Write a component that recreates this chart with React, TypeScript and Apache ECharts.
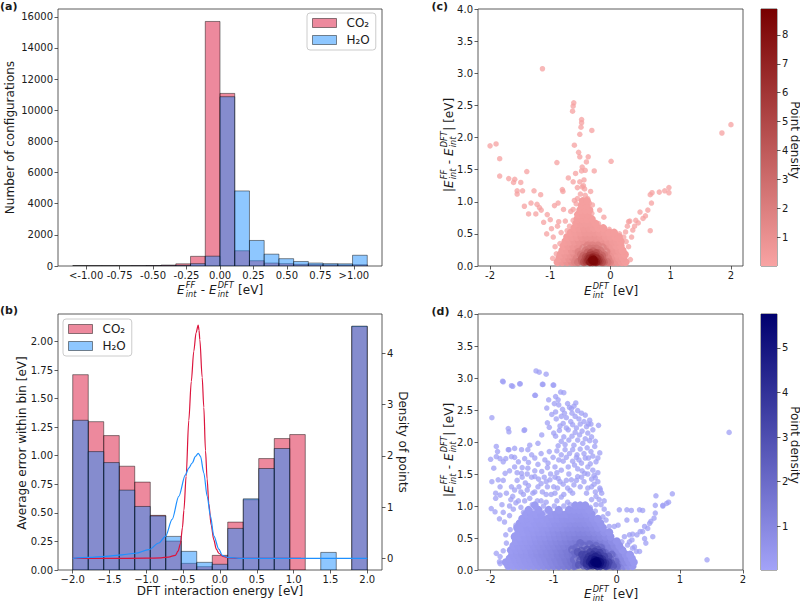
import React, { useEffect, useRef } from 'react';
import * as echarts from 'echarts';

const FONT = "'DejaVu Sans', 'Liberation Sans', sans-serif";
const TXT = '#1a1a1a';
const AX = '#333333';
const CO2_FILL = 'rgba(220,20,60,0.5)';
const H2O_FILL = 'rgba(30,144,255,0.5)';
const EDGE = 'rgba(0,0,0,0.45)';
const CO2_LINE = '#DC143C';
const H2O_LINE = '#1E90FF';
const C_LOW = '#F8A3A3';
const C_HIGH = '#780000';
const D_LOW = '#A3A3F8';
const D_HIGH = '#00006E';
const NAME_CO2 = 'CO₂';
const NAME_H2O = 'H₂O';

// ---------------- (a) error histogram ----------------
const aBinEdges = [-1.1, -0.99, -0.88, -0.77, -0.66, -0.55, -0.44, -0.33, -0.22, -0.11, 0, 0.11, 0.22, 0.33, 0.44, 0.55, 0.66, 0.77, 0.88, 0.99, 1.1];
const aCO2 = [6, 5, 5, 6, 10, 25, 60, 140, 620, 15700, 11080, 980, 340, 190, 150, 110, 90, 75, 60, 80];
const aH2O = [3, 3, 3, 4, 6, 10, 20, 40, 150, 630, 10870, 4820, 1640, 760, 470, 290, 190, 150, 140, 690];
const aTicks = [-1, -0.75, -0.5, -0.25, 0, 0.25, 0.5, 0.75, 1];
const aTickLabels = ['<-1.00', '-0.75', '-0.50', '-0.25', '0.00', '0.25', '0.50', '0.75', '>1.00'];
const aYTicks = [0, 2000, 4000, 6000, 8000, 10000, 12000, 14000, 16000];

// ---------------- (b) average error per DFT-energy bin ----------------
const bBinEdges = [-2, -1.789, -1.579, -1.368, -1.158, -0.947, -0.737, -0.526, -0.316, -0.105, 0.105, 0.316, 0.526, 0.737, 0.947, 1.158, 1.368, 1.579, 1.789, 2];
const bCO2 = [1.709, 1.298, 1.176, 0.908, 0.769, 0.478, 0.253, 0.058, 0.029, 0.128, 0.419, 0.615, 0.975, 1.15, 1.185, 0, 0, 0, 2.13];
const bH2O = [1.31, 1.036, 0.94, 0.699, 0.556, 0.473, 0.294, 0.163, 0.067, 0.05, 0.364, 0.623, 0.888, 1.063, 0, 0, 0.154, 0, 2.134];
const bKdeCO2 = [[-2, 0], [-1.5, 0], [-1.0, 0.003], [-0.8, 0.01], [-0.7, 0.025], [-0.605, 0.06], [-0.57, 0.14], [-0.537, 0.29], [-0.51, 0.6], [-0.49, 0.94], [-0.46, 1.6], [-0.424, 2.69], [-0.39, 3.45], [-0.356, 4.04], [-0.325, 4.4], [-0.296, 4.55], [-0.285, 4.45], [-0.274, 4.27], [-0.242, 3.53], [-0.22, 2.95], [-0.197, 2.1], [-0.175, 1.55], [-0.152, 1.07], [-0.12, 0.65], [-0.084, 0.36], [-0.05, 0.18], [-0.016, 0.1], [0.04, 0.04], [0.12, 0.01], [0.25, 0], [1.1, 0]];
const bKdeH2O = [[-2, 0], [-1.78, 0.02], [-1.556, 0.04], [-1.33, 0.07], [-1.148, 0.1], [-0.967, 0.17], [-0.83, 0.3], [-0.74, 0.43], [-0.65, 0.76], [-0.56, 1.21], [-0.47, 1.63], [-0.424, 1.76], [-0.378, 1.86], [-0.333, 1.99], [-0.296, 2.05], [-0.265, 1.99], [-0.22, 1.67], [-0.174, 1.21], [-0.13, 0.83], [-0.084, 0.44], [-0.016, 0.18], [0.03, 0.06], [0.1, 0.02], [0.3, 0], [2, 0]];
const bXTicks = [-2, -1.5, -1, -0.5, 0, 0.5, 1, 1.5, 2];
const bYTicks = [0, 0.25, 0.5, 0.75, 1, 1.25, 1.5, 1.75, 2];
const bY2Ticks = [0, 1, 2, 3, 4];

// ---------------- (c) CO2 parity-error scatter ----------------
const cSparse = [
  [-1.13, 3.07], [-0.61, 2.54], [-0.62, 2.49], [-0.63, 2.41], [-0.48, 2.28], [-0.48, 2.23], [-0.49, 2.16], [-0.51, 2.05], [-0.31, 2.11], [-0.6, 1.88],
  [-0.53, 1.77], [-0.51, 1.7], [-0.37, 1.7], [-0.4, 1.62], [-0.47, 1.54], [-0.42, 1.49], [-0.27, 1.48], [0.01, 1.63], [-0.89, 1.61],
  [-2.0, 1.87], [-1.9, 1.9], [-1.84, 1.67], [-1.84, 1.4], [-1.69, 1.36], [-1.59, 1.35], [-1.61, 1.3], [-1.49, 1.3], [-1.55, 1.17], [-1.55, 1.12],
  [-1.46, 1.17], [-1.39, 1.47], [-1.27, 1.17], [-1.32, 0.98], [-1.36, 0.81], [-1.43, 0.93], [-1.22, 0.96], [-1.16, 1.11], [-1.18, 0.91], [-1.15, 0.87],
  [-1.24, 0.81], [-1.11, 0.68], [-1.05, 0.8], [-1.0, 0.72], [-0.98, 0.58], [-0.93, 0.94], [-0.87, 0.98], [-0.78, 0.88], [-0.8, 1.19], [-0.79, 1.16], [-0.7, 1.37],
  [0.66, 0.55], [0.58, 0.78], [0.62, 0.87], [0.68, 0.98], [0.66, 1.11], [0.69, 1.14], [0.81, 1.15], [0.9, 1.17], [0.97, 1.22], [0.97, 1.14],
  [0.49, 0.84], [0.42, 0.71], [0.32, 0.7], [0.37, 0.56], [0.25, 0.53], [0.15, 0.5], [-0.02, 0.57], [0.33, 0.1], [0.46, 0.67], [0.54, 0.74],
  [0.3, 0.69], [0.28, 0.62], [0.35, 0.45], [0.4, 0.62], [0.22, 0.45], [0.26, 0.38], [0.3, 0.3], [1.85, 2.07], [2.0, 2.2],
  [-0.62, 1.31], [-0.58, 1.44], [-0.48, 1.48], [-0.44, 1.34], [-0.51, 1.31], [-0.47, 1.23], [-0.42, 1.1], [-0.48, 1.02], [-0.57, 0.97], [-0.4, 0.92],
  [-0.62, 0.88], [-0.31, 0.82], [-0.18, 0.87], [-0.11, 0.76], [-0.62, 0.71], [-0.4, 0.71], [-0.51, 0.76], [-0.26, 0.61], [-0.75, 0.7], [-0.86, 0.69],
  [-1.06, 0.5], [-0.9, 0.19], [-0.95, 0.45], [-0.84, 0.35], [-0.45, 1.25], [-0.43, 1.2], [-0.5, 1.12], [-0.55, 1.05], [-0.45, 0.98], [-0.35, 0.98],
  [-0.38, 1.05], [-0.52, 0.88], [-0.35, 0.85], [-0.68, 0.62], [-0.2, 0.66], [-0.15, 0.6], [-0.08, 0.55], [-0.72, 0.55], [-0.82, 0.52], [-0.92, 0.3],
  [-0.96, 0.12], [-0.88, 0.62], [-0.66, 0.85], [-0.3, 0.95], [-0.33, 1.16], [-0.6, 1.02], [-0.55, 1.22]
];
const cDense = [
  [-0.88, 0.06, 0.4], [-0.8, 0.06, 0.6], [-0.72, 0.06, 0.9], [-0.64, 0.06, 1.3], [-0.02, 0.06, 1.5], [0.05, 0.06, 1.1], [0.12, 0.06, 0.8], [0.19, 0.06, 0.5], [0.25, 0.06, 0.3],
  [-0.85, 0.12, 0.4], [-0.77, 0.12, 0.6], [-0.69, 0.12, 0.9], [-0.62, 0.12, 1.3], [0.02, 0.12, 1.2], [0.08, 0.12, 0.9], [0.14, 0.12, 0.6], [0.21, 0.12, 0.4],
  [-0.83, 0.18, 0.4], [-0.75, 0.18, 0.6], [-0.67, 0.18, 0.8], [-0.6, 0.18, 1.2], [0.0, 0.18, 1.2], [0.06, 0.18, 0.8], [0.12, 0.18, 0.5], [0.19, 0.18, 0.4], [0.24, 0.18, 0.3],
  [-0.8, 0.24, 0.4], [-0.72, 0.24, 0.5], [-0.64, 0.24, 0.8], [-0.57, 0.24, 1.1], [0.01, 0.24, 1.0], [0.07, 0.24, 0.7], [0.14, 0.24, 0.5], [0.2, 0.24, 0.3],
  [-0.78, 0.31, 0.3], [-0.7, 0.31, 0.5], [-0.62, 0.31, 0.7], [-0.54, 0.31, 0.9], [-0.05, 0.31, 1.0], [0.03, 0.31, 0.6], [0.1, 0.31, 0.4], [0.17, 0.31, 0.3],
  [-0.75, 0.38, 0.3], [-0.68, 0.38, 0.4], [-0.6, 0.38, 0.6], [-0.52, 0.38, 0.8], [-0.44, 0.38, 1.0], [-0.36, 0.38, 1.1], [-0.28, 0.38, 1.1], [-0.2, 0.38, 1.0],
  [-0.12, 0.38, 0.9], [-0.04, 0.38, 0.7], [0.04, 0.38, 0.5], [0.11, 0.38, 0.4], [0.17, 0.38, 0.3],
  [-0.72, 0.45, 0.3], [-0.64, 0.45, 0.4], [-0.56, 0.45, 0.5], [-0.48, 0.45, 0.7], [-0.4, 0.45, 0.8], [-0.32, 0.45, 0.8], [-0.24, 0.45, 0.8], [-0.16, 0.45, 0.7],
  [-0.08, 0.45, 0.5], [0.0, 0.45, 0.4], [0.08, 0.45, 0.3], [0.14, 0.45, 0.3],
  [-0.66, 0.52, 0.3], [-0.58, 0.52, 0.4], [-0.5, 0.52, 0.5], [-0.42, 0.52, 0.6], [-0.34, 0.52, 0.6], [-0.26, 0.52, 0.6], [-0.18, 0.52, 0.5], [-0.1, 0.52, 0.4],
  [-0.02, 0.52, 0.3], [0.06, 0.52, 0.3],
  [-0.6, 0.59, 0.3], [-0.52, 0.59, 0.4], [-0.44, 0.59, 0.5], [-0.36, 0.59, 0.5], [-0.28, 0.59, 0.4], [-0.2, 0.59, 0.3], [-0.12, 0.59, 0.3],
  [-0.57, 0.66, 0.3], [-0.49, 0.66, 0.4], [-0.41, 0.66, 0.4], [-0.33, 0.66, 0.4], [-0.25, 0.66, 0.3],
  [-0.55, 0.73, 0.3], [-0.47, 0.73, 0.3], [-0.39, 0.73, 0.3], [-0.31, 0.73, 0.3],
  [-0.54, 0.8, 0.2], [-0.46, 0.8, 0.3], [-0.38, 0.8, 0.3], [-0.5, 0.87, 0.2], [-0.42, 0.87, 0.2], [-0.35, 0.87, 0.2],
  [-0.48, 0.94, 0.2], [-0.4, 0.94, 0.2], [-0.46, 1.01, 0.2], [-0.39, 1.01, 0.2]
];
const cCore = [
  [-0.56, 0.12, 1.8], [-0.04, 0.12, 1.8], [-0.53, 0.22, 1.8], [-0.07, 0.22, 1.8], [-0.45, 0.28, 1.8], [-0.13, 0.29, 1.8], [-0.3, 0.32, 1.8], [-0.59, 0.06, 1.8], [-0.01, 0.06, 1.8], [-0.38, 0.32, 1.8], [-0.21, 0.32, 1.8],
  [-0.51, 0.08, 2.5], [-0.08, 0.08, 2.5], [-0.49, 0.18, 2.5], [-0.11, 0.18, 2.5], [-0.41, 0.24, 2.5], [-0.17, 0.24, 2.5], [-0.29, 0.27, 2.5], [-0.54, 0.06, 2.5], [-0.05, 0.06, 2.5], [-0.35, 0.27, 2.5], [-0.23, 0.27, 2.5],
  [-0.47, 0.07, 3.5], [-0.12, 0.08, 3.5], [-0.45, 0.16, 3.5], [-0.14, 0.16, 3.5], [-0.38, 0.21, 3.5], [-0.2, 0.2, 3.5], [-0.29, 0.23, 3.5], [-0.48, 0.11, 3.5], [-0.11, 0.06, 3.5],
  [-0.43, 0.08, 4.5], [-0.15, 0.07, 4.5], [-0.41, 0.14, 4.5], [-0.17, 0.13, 4.5], [-0.33, 0.2, 4.5], [-0.24, 0.2, 4.5], [-0.44, 0.06, 4.5], [-0.14, 0.06, 4.5],
  [-0.4, 0.07, 5.5], [-0.18, 0.07, 5.5], [-0.38, 0.12, 5.5], [-0.2, 0.11, 5.5], [-0.3, 0.17, 5.5], [-0.25, 0.16, 5.5], [-0.35, 0.16, 5.5],
  [-0.37, 0.08, 6.5], [-0.21, 0.07, 6.5], [-0.29, 0.14, 6.5], [-0.35, 0.12, 6.5], [-0.23, 0.12, 6.5], [-0.3, 0.06, 6.5],
  [-0.33, 0.07, 7.5], [-0.25, 0.08, 7.5], [-0.3, 0.12, 7.5], [-0.24, 0.06, 7.5], [-0.34, 0.06, 7.5],
  [-0.29, 0.08, 8.5], [-0.27, 0.07, 8.5], [-0.31, 0.09, 8.5], [-0.28, 0.1, 8.5]
];
const cXTicks = [-2, -1, 0, 1, 2];
const cYTicks = [0, 0.5, 1, 1.5, 2, 2.5, 3, 3.5, 4];
const cBarRange = [0.02, 8.89];
const cBarTicks = [1, 2, 3, 4, 5, 6, 7, 8];

// ---------------- (d) H2O parity-error scatter ----------------
const dSparse = [
  [-1.28, 3.11], [-1.23, 3.09], [-1.12, 3.06], [-1.01, 2.89], [-1.18, 2.9], [-1.3, 2.73], [-1.81, 2.95], [-1.67, 2.88], [-1.54, 2.91], [-1.98, 2.38],
  [-1.47, 2.18], [-1.72, 2.21], [-1.71, 2.16], [-2.0, 1.73], [-1.89, 1.85], [-1.91, 1.93], [-1.85, 1.74], [-1.76, 1.74], [-1.72, 1.88], [-1.62, 1.76],
  [-1.95, 1.59], [-1.99, 0.96], [-1.93, 0.91], [-1.92, 1.12], [-1.85, 1.17], [-1.91, 0.26], [-1.86, 0.13], [-1.85, 0.21], [-1.72, 0.13], [-1.68, 0.18],
  [-1.76, 0.55], [-1.62, 0.55], [1.43, 0.16], [1.78, 2.15], [0.88, 1.19], [0.61, 1.01], [0.73, 1.01], [0.79, 1.04], [0.61, 0.89], [0.36, 0.94],
  [0.16, 0.94], [0.04, 0.94], [-0.12, 0.68], [0.02, 0.7], [0.31, 0.78], [0.54, 0.76], [0.49, 0.65], [0.41, 0.6], [0.32, 0.55], [0.25, 0.56],
  [0.2, 0.44], [0.08, 0.44], [0.02, 0.34], [0.25, 0.34], [0.36, 0.29], [0.46, 0.42], [0.57, 0.52], [0.44, 0.49], [-0.27, 1.28], [-0.33, 1.15], [-0.22, 0.83],
  [-1.8, 2.94], [-1.65, 2.87], [-1.53, 2.91], [-1.17, 2.9], [-1.0, 2.89], [-1.29, 2.73], [-0.89, 2.78], [-0.84, 2.77], [-0.97, 2.71], [-0.93, 2.66],
  [-0.99, 2.6], [-0.78, 2.6], [-0.65, 2.61], [-0.75, 2.54], [-0.86, 2.51], [-0.97, 2.47], [-1.11, 2.53], [-1.03, 2.43], [-0.96, 2.36], [-0.83, 2.45],
  [-0.71, 2.45], [-0.62, 2.49], [-0.56, 2.45], [-0.5, 2.42], [-0.43, 2.34], [-0.6, 2.36], [-0.73, 2.32], [-0.85, 2.29], [-1.1, 2.3], [-1.07, 2.23],
  [-0.29, 2.26], [-0.41, 2.28], [-0.48, 2.24], [-0.64, 2.22], [-0.77, 2.19], [-0.91, 2.18], [-1.0, 2.14], [-0.97, 2.09], [-0.84, 2.08], [-0.71, 2.09],
  [-0.59, 2.11], [-0.46, 2.14], [-0.38, 2.19], [-0.34, 2.01], [-0.43, 2.02], [-0.54, 1.98], [-0.68, 1.95], [-0.82, 1.96], [-0.93, 1.94], [-1.19, 2.11],
  [-1.25, 1.98], [-0.27, 1.83], [-0.41, 1.85], [-0.52, 1.82], [-0.63, 1.8], [-0.75, 1.82], [-0.88, 1.8], [-1.01, 1.76], [-1.14, 1.72], [-1.41, 1.88],
  [-1.51, 1.88], [-1.62, 1.9], [-1.38, 1.95], [-1.71, 1.88], [-1.91, 1.77], [-1.46, 2.19],
  [0.12, 0.52], [0.2, 0.55], [0.24, 0.47], [0.28, 0.36], [0.17, 0.39], [0.07, 0.34], [0.15, 0.26], [0.23, 0.23], [0.31, 0.29], [0.37, 0.6],
  [0.44, 0.68], [0.52, 0.73], [0.59, 0.81], [0.73, 1.0], [0.82, 1.06], [0.62, 1.16], [0.41, 0.93], [0.23, 0.93], [0.16, 0.78], [-0.09, 0.52],
  [-0.04, 0.68], [-0.17, 0.78], [-0.26, 1.25], [-0.36, 1.34], [-0.34, 1.44],
  [-1.85, 0.1], [-1.98, 1.38], [-1.92, 1.2], [-1.88, 1.41], [-1.77, 1.51], [-1.67, 1.3], [-1.69, 0.63], [-1.75, 0.42], [-1.8, 0.3], [-1.78, 0.75], [-1.7, 0.85], [-1.82, 1.02],
  [-1.62, 1.61], [-1.51, 1.51], [-1.41, 1.59], [-1.3, 1.46], [-1.19, 1.54], [-1.09, 1.67], [-0.98, 1.61], [-0.88, 1.56], [-0.77, 1.61], [-0.67, 1.64],
  [-0.56, 1.67], [-0.46, 1.61], [-0.38, 1.56], [-0.33, 1.69], [-0.51, 1.51], [-0.62, 1.46], [-0.72, 1.41], [-0.93, 1.43], [-1.06, 1.41], [-1.46, 1.74],
  [-1.56, 1.69], [-1.8, 1.69], [-1.67, 1.77], [-1.58, 1.4], [-1.45, 1.36], [-1.35, 1.45], [-1.2, 1.35], [-1.0, 1.3], [-0.85, 1.34], [-0.78, 1.28],
  [-0.68, 1.33], [-0.4, 1.42], [-0.3, 1.52], [-0.28, 1.1], [-0.2, 0.95], [-0.25, 1.02], [-0.55, 1.55], [-0.45, 1.75], [-0.6, 1.72], [-0.7, 1.7],
  [-0.85, 1.7], [-1.1, 1.6], [-1.25, 1.65], [-1.35, 1.8],
  [-0.88, 2.4], [-0.8, 2.38], [-0.66, 2.4], [-0.52, 2.32], [-0.45, 2.28], [-0.58, 2.28], [-0.7, 2.27], [-0.9, 2.25], [-0.8, 2.22], [-0.55, 2.17],
  [-0.66, 2.15], [-0.4, 2.08], [-0.5, 2.05], [-0.62, 2.03], [-0.76, 2.03], [-0.88, 2.01], [-0.35, 1.93], [-0.47, 1.91], [-0.58, 1.89], [-0.7, 1.88],
  [-0.82, 1.88], [-0.95, 1.86], [-1.07, 1.85], [-0.3, 1.75], [-0.38, 1.78], [-0.5, 1.75], [-0.64, 1.76], [-0.8, 1.76], [-0.92, 1.72], [-1.2, 1.82],
  [-1.3, 1.75], [-1.5, 1.6], [-1.58, 1.52], [-1.7, 1.55], [-1.8, 1.4], [-1.85, 1.3], [-1.75, 1.2], [-1.65, 1.15], [-1.6, 1.05], [-1.7, 1.0],
  [-1.8, 0.9], [-1.86, 0.8], [-1.6, 0.7], [-1.64, 0.95], [-1.3, 1.55], [-1.4, 1.68], [-1.15, 1.45], [-1.05, 1.5], [-0.95, 1.52], [-0.9, 1.38],
  [-0.62, 1.58], [-0.42, 1.66], [-0.36, 1.48], [-0.3, 1.38], [-0.24, 1.2], [-0.2, 1.08], [-0.14, 0.88], [-0.72, 2.52], [-0.68, 2.56], [-0.92, 2.58], [-1.08, 2.66],
  [-1.52, 1.22], [-1.42, 1.25], [-1.3, 1.22], [-1.38, 1.12], [-1.26, 1.08], [-1.12, 1.18], [-0.98, 1.2], [-0.84, 1.18], [-0.74, 1.24], [-0.58, 1.3], [-0.46, 1.28],
  [-1.62, 1.25], [-1.55, 1.3], [-1.48, 1.18], [-1.4, 1.32], [-1.33, 1.2], [-1.25, 1.3], [-1.18, 1.22], [-1.1, 1.3], [-1.04, 1.18], [-0.94, 1.28],
  [-0.88, 1.14], [-0.8, 1.4], [-0.7, 1.2], [-0.64, 1.4], [-0.52, 1.38], [-0.48, 1.2], [-0.4, 1.3], [-0.34, 1.22], [-1.5, 1.45], [-1.42, 1.5],
  [-1.24, 1.42], [-1.12, 1.38], [-0.98, 1.45], [-0.76, 1.5], [-0.56, 1.45], [-0.46, 1.5], [-1.68, 1.1], [-1.56, 1.08], [-1.46, 1.08], [-1.2, 1.08],
  [-1.12, 1.06], [-0.95, 1.08], [-0.78, 1.06], [-0.4, 1.1], [-0.33, 1.02], [-1.52, 0.98], [-1.34, 1.02], [-1.16, 1.0], [-0.99, 1.0], [-0.84, 1.0],
  [-0.74, 1.02], [-0.42, 0.98], [-1.48, 0.9], [-1.32, 0.92], [-1.14, 0.9], [-0.34, 0.92]
];
const dDense = [
  [-1.72, 0.06, 0.3], [-1.64, 0.06, 0.3], [-1.56, 0.06, 0.35], [-1.48, 0.06, 0.4], [-1.4, 0.06, 0.45], [-1.32, 0.06, 0.5], [-1.24, 0.06, 0.6], [-1.16, 0.06, 0.7], [-1.08, 0.06, 0.85],
  [-1.0, 0.06, 1.0], [-0.92, 0.06, 1.15], [-0.84, 0.06, 1.3], [-0.76, 0.06, 1.5], [-0.68, 0.06, 1.7], [0.04, 0.06, 1.4], [0.11, 0.06, 1.0], [0.18, 0.06, 0.6], [0.25, 0.06, 0.4],
  [-1.76, 0.12, 0.3], [-1.68, 0.12, 0.3], [-1.6, 0.12, 0.35], [-1.52, 0.12, 0.4], [-1.44, 0.12, 0.45], [-1.36, 0.12, 0.5], [-1.28, 0.12, 0.6], [-1.2, 0.12, 0.7], [-1.12, 0.12, 0.8],
  [-1.04, 0.12, 0.95], [-0.96, 0.12, 1.1], [-0.88, 0.12, 1.25], [-0.8, 0.12, 1.45], [-0.72, 0.12, 1.65], [0.06, 0.12, 1.2], [0.13, 0.12, 0.85], [0.2, 0.12, 0.55], [0.27, 0.12, 0.35],
  [-1.7, 0.18, 0.3], [-1.62, 0.18, 0.35], [-1.54, 0.18, 0.4], [-1.46, 0.18, 0.45], [-1.38, 0.18, 0.5], [-1.3, 0.18, 0.6], [-1.22, 0.18, 0.7], [-1.14, 0.18, 0.8], [-1.06, 0.18, 0.95],
  [-0.98, 0.18, 1.1], [-0.9, 0.18, 1.25], [-0.82, 0.18, 1.4], [-0.74, 0.18, 1.6], [0.03, 0.18, 1.3], [0.1, 0.18, 0.9], [0.17, 0.18, 0.55], [0.24, 0.18, 0.35],
  [-1.66, 0.24, 0.35], [-1.58, 0.24, 0.4], [-1.5, 0.24, 0.45], [-1.42, 0.24, 0.5], [-1.34, 0.24, 0.6], [-1.26, 0.24, 0.7], [-1.18, 0.24, 0.8], [-1.1, 0.24, 0.9], [-1.02, 0.24, 1.0],
  [-0.94, 0.24, 1.15], [-0.86, 0.24, 1.3], [-0.78, 0.24, 1.45], [-0.7, 0.24, 1.6], [0.0, 0.24, 1.2], [0.07, 0.24, 0.85], [0.14, 0.24, 0.55], [0.21, 0.24, 0.35],
  [-1.68, 0.31, 0.3], [-1.6, 0.31, 0.35], [-1.52, 0.31, 0.4], [-1.44, 0.31, 0.45], [-1.36, 0.31, 0.55], [-1.28, 0.31, 0.65], [-1.2, 0.31, 0.75], [-1.12, 0.31, 0.85], [-1.04, 0.31, 0.95],
  [-0.96, 0.31, 1.1], [-0.88, 0.31, 1.25], [-0.8, 0.31, 1.4], [-0.14, 0.31, 1.4], [-0.06, 0.31, 1.1], [0.02, 0.31, 0.8], [0.09, 0.31, 0.5],
  [-1.64, 0.38, 0.3], [-1.56, 0.38, 0.35], [-1.48, 0.38, 0.4], [-1.4, 0.38, 0.45], [-1.32, 0.38, 0.55], [-1.24, 0.38, 0.65], [-1.16, 0.38, 0.75], [-1.08, 0.38, 0.85], [-1.0, 0.38, 0.95],
  [-0.92, 0.38, 1.1], [-0.84, 0.38, 1.2], [-0.76, 0.38, 1.35], [-0.68, 0.38, 1.5], [-0.2, 0.38, 1.4], [-0.12, 0.38, 1.15], [-0.04, 0.38, 0.9], [0.04, 0.38, 0.6],
  [-1.6, 0.45, 0.3], [-1.52, 0.45, 0.35], [-1.44, 0.45, 0.4], [-1.36, 0.45, 0.45], [-1.28, 0.45, 0.55], [-1.2, 0.45, 0.65], [-1.12, 0.45, 0.75], [-1.04, 0.45, 0.85], [-0.96, 0.45, 0.95],
  [-0.88, 0.45, 1.05], [-0.8, 0.45, 1.15], [-0.72, 0.45, 1.3], [-0.64, 0.45, 1.4], [-0.56, 0.45, 1.45], [-0.48, 0.45, 1.5], [-0.4, 0.45, 1.5], [-0.32, 0.45, 1.4], [-0.24, 0.45, 1.25],
  [-0.16, 0.45, 1.05], [-0.08, 0.45, 0.8], [0.0, 0.45, 0.55],
  [-1.62, 0.52, 0.3], [-1.54, 0.52, 0.3], [-1.46, 0.52, 0.35], [-1.38, 0.52, 0.4], [-1.3, 0.52, 0.45], [-1.22, 0.52, 0.55], [-1.14, 0.52, 0.6], [-1.06, 0.52, 0.7], [-0.98, 0.52, 0.8],
  [-0.9, 0.52, 0.9], [-0.82, 0.52, 1.0], [-0.74, 0.52, 1.1], [-0.66, 0.52, 1.2], [-0.58, 0.52, 1.25], [-0.5, 0.52, 1.25], [-0.42, 0.52, 1.2], [-0.34, 0.52, 1.1], [-0.26, 0.52, 0.95],
  [-0.18, 0.52, 0.8], [-0.1, 0.52, 0.6],
  [-1.56, 0.59, 0.3], [-1.48, 0.59, 0.3], [-1.4, 0.59, 0.35], [-1.32, 0.59, 0.4], [-1.24, 0.59, 0.45], [-1.16, 0.59, 0.5], [-1.08, 0.59, 0.6], [-1.0, 0.59, 0.7], [-0.92, 0.59, 0.8],
  [-0.84, 0.59, 0.9], [-0.76, 0.59, 0.95], [-0.68, 0.59, 1.0], [-0.6, 0.59, 1.05], [-0.52, 0.59, 1.05], [-0.44, 0.59, 1.0], [-0.36, 0.59, 0.9], [-0.28, 0.59, 0.8], [-0.2, 0.59, 0.6],
  [-0.12, 0.59, 0.5],
  [-1.58, 0.66, 0.3], [-1.5, 0.66, 0.3], [-1.42, 0.66, 0.35], [-1.34, 0.66, 0.35], [-1.26, 0.66, 0.4], [-1.18, 0.66, 0.45], [-1.1, 0.66, 0.5], [-1.02, 0.66, 0.6], [-0.94, 0.66, 0.65],
  [-0.86, 0.66, 0.7], [-0.78, 0.66, 0.8], [-0.7, 0.66, 0.85], [-0.62, 0.66, 0.9], [-0.54, 0.66, 0.9], [-0.46, 0.66, 0.85], [-0.38, 0.66, 0.75], [-0.3, 0.66, 0.6], [-0.22, 0.66, 0.5],
  [-1.54, 0.73, 0.3], [-1.46, 0.73, 0.3], [-1.38, 0.73, 0.3], [-1.3, 0.73, 0.35], [-1.22, 0.73, 0.4], [-1.14, 0.73, 0.4], [-1.06, 0.73, 0.45], [-0.98, 0.73, 0.55], [-0.9, 0.73, 0.6],
  [-0.82, 0.73, 0.65], [-0.74, 0.73, 0.7], [-0.66, 0.73, 0.75], [-0.58, 0.73, 0.75], [-0.5, 0.73, 0.7], [-0.42, 0.73, 0.65], [-0.34, 0.73, 0.55], [-0.26, 0.73, 0.45],
  [-1.5, 0.8, 0.25], [-1.42, 0.8, 0.3], [-1.34, 0.8, 0.3], [-1.26, 0.8, 0.35], [-1.18, 0.8, 0.35], [-1.1, 0.8, 0.4], [-1.02, 0.8, 0.45], [-0.94, 0.8, 0.5], [-0.86, 0.8, 0.55],
  [-0.78, 0.8, 0.6], [-0.7, 0.8, 0.6], [-0.62, 0.8, 0.65], [-0.54, 0.8, 0.65], [-0.46, 0.8, 0.6], [-0.38, 0.8, 0.5], [-0.3, 0.8, 0.4],
  [-1.44, 0.87, 0.25], [-1.36, 0.87, 0.3], [-1.28, 0.87, 0.3], [-1.2, 0.87, 0.35], [-1.04, 0.87, 0.4], [-0.96, 0.87, 0.45], [-0.88, 0.87, 0.5],
  [-0.8, 0.87, 0.5], [-0.72, 0.87, 0.55], [-0.64, 0.87, 0.55], [-0.56, 0.87, 0.55], [-0.48, 0.87, 0.5], [-0.4, 0.87, 0.45],
  [-1.4, 0.94, 0.25], [-1.24, 0.94, 0.3], [-1.08, 0.94, 0.35], [-0.92, 0.94, 0.4], [-0.76, 0.94, 0.45], [-0.68, 0.94, 0.45], [-0.6, 0.94, 0.45], [-0.52, 0.94, 0.45], [-0.44, 0.94, 0.4],
  [-1.3, 1.01, 0.25], [-0.66, 1.01, 0.4], [-0.58, 1.01, 0.4], [-0.5, 1.01, 0.4]
];
const dCore = [
  [-0.66, 0.26, 2.0], [-0.05, 0.09, 2.0], [-0.64, 0.35, 2.0], [-0.1, 0.17, 2.0], [-0.19, 0.27, 2.0], [-0.52, 0.38, 2.0], [-0.43, 0.4, 2.0], [-0.33, 0.38, 2.0],
  [-0.25, 0.35, 2.0], [-0.68, 0.16, 2.0], [-0.65, 0.07, 2.0], [-0.02, 0.13, 2.0], [-0.08, 0.24, 2.0], [-0.71, 0.32, 2.0], [-0.58, 0.42, 2.0], [0.0, 0.06, 2.0],
  [-0.58, 0.22, 2.7], [-0.11, 0.07, 2.7], [-0.56, 0.3, 2.7], [-0.16, 0.17, 2.7], [-0.23, 0.28, 2.7], [-0.47, 0.32, 2.7], [-0.38, 0.34, 2.7], [-0.3, 0.32, 2.7],
  [-0.58, 0.15, 2.7], [-0.53, 0.07, 2.7], [-0.09, 0.11, 2.7], [-0.13, 0.21, 2.7], [-0.62, 0.28, 2.7], [-0.6, 0.08, 2.7], [-0.06, 0.06, 2.7],
  [-0.52, 0.18, 3.4], [-0.15, 0.07, 3.4], [-0.49, 0.24, 3.4], [-0.2, 0.21, 3.4], [-0.27, 0.27, 3.4], [-0.42, 0.28, 3.4], [-0.35, 0.29, 3.4], [-0.52, 0.12, 3.4],
  [-0.47, 0.06, 3.4], [-0.13, 0.12, 3.4], [-0.17, 0.06, 3.4], [-0.55, 0.24, 3.4],
  [-0.47, 0.16, 4.0], [-0.19, 0.07, 4.0], [-0.44, 0.21, 4.0], [-0.23, 0.17, 4.0], [-0.3, 0.23, 4.0], [-0.38, 0.24, 4.0], [-0.43, 0.07, 4.0], [-0.26, 0.06, 4.0],
  [-0.18, 0.11, 4.0], [-0.48, 0.1, 4.0],
  [-0.43, 0.13, 4.6], [-0.23, 0.08, 4.6], [-0.4, 0.18, 4.6], [-0.27, 0.18, 4.6], [-0.31, 0.06, 4.6], [-0.38, 0.07, 4.6], [-0.22, 0.12, 4.6], [-0.34, 0.21, 4.6],
  [-0.39, 0.1, 5.2], [-0.27, 0.09, 5.2], [-0.35, 0.16, 5.2], [-0.29, 0.14, 5.2], [-0.34, 0.08, 5.2], [-0.26, 0.12, 5.2],
  [-0.33, 0.11, 5.7], [-0.3, 0.1, 5.7], [-0.36, 0.12, 5.7], [-0.32, 0.14, 5.7]
];
const dXTicks = [-2, -1, 0, 1, 2];
const dBarRange = [0.02, 5.76];
const dBarTicks = [1, 2, 3, 4, 5];

// ---------------- helpers ----------------
type MP = { t: string; it?: boolean } | { sup: string; sub: string } | { gap: number };
let measureCtx: CanvasRenderingContext2D | null = null;
function tw(s: string, size: number, it?: boolean) {
  if (!measureCtx) measureCtx = document.createElement('canvas').getContext('2d');
  if (!measureCtx) return s.length * size * 0.6;
  measureCtx.font = `${it ? 'italic ' : ''}${size}px ${FONT}`;
  return measureCtx.measureText(s).width;
}
function textEl(text: string, x: number, y: number, size: number, opts: any = {}) {
  const align = opts.align || 'center';
  return {
    type: 'text', x, y, rotation: opts.rotation || 0, silent: true,
    style: {
      text, fill: TXT,
      font: `${opts.bold ? 'bold ' : ''}${opts.it ? 'italic ' : ''}${size}px ${FONT}`,
      textAlign: align, align, textVerticalAlign: 'middle', verticalAlign: 'middle',
    },
  };
}
function mathText(parts: MP[], cx: number, cy: number, size: number, rotation = 0) {
  const ss = size * 0.68;
  const children: any[] = [];
  let x = 0;
  for (const p of parts) {
    if ('t' in p) {
      children.push(textEl(p.t, x, 0, size, { align: 'left', it: p.it }));
      x += tw(p.t, size, p.it);
    } else if ('sup' in p) {
      children.push(textEl(p.sup, x + 1.2, -size * 0.38, ss, { align: 'left', it: true }));
      children.push(textEl(p.sub, x + 1.2, size * 0.36, ss, { align: 'left', it: true }));
      x += Math.max(tw(p.sup, ss, true), tw(p.sub, ss, true)) + 1.8;
    } else {
      x += p.gap * size;
    }
  }
  children.forEach((c) => { c.x -= x / 2; });
  return { type: 'group', x: cx, y: cy, rotation, children };
}
const Eint = (sup: string): MP[] => [{ t: 'E', it: true }, { sup, sub: 'int' }];
const SP: MP = { gap: 0.32 };
const diffLabel: MP[] = [...Eint('FF'), SP, { t: '-' }, SP, ...Eint('DFT'), SP, { t: '[eV]' }];
const absLabel: MP[] = [{ t: '|' }, ...Eint('FF'), SP, { t: '-' }, SP, ...Eint('DFT'), { t: '|' }, SP, { t: '[eV]' }];
const dftLabel: MP[] = [...Eint('DFT'), SP, { t: '[eV]' }];

function histSeries(name: string, edges: number[], vals: number[], xi: number, yi: number, fill: string) {
  return {
    type: 'custom', name, xAxisIndex: xi, yAxisIndex: yi, silent: true, clip: true,
    itemStyle: { color: fill },
    data: vals.map((v, i) => [edges[i], edges[i + 1], v]),
    encode: { x: [0, 1], y: 2 },
    renderItem: (_p: any, api: any) => {
      const h = api.value(2);
      if (!(h > 0)) return null;
      const p0 = api.coord([api.value(0), h]);
      const p1 = api.coord([api.value(1), 0]);
      return {
        type: 'rect',
        shape: { x: p0[0], y: p0[1], width: p1[0] - p0[0], height: p1[1] - p0[1] },
        style: { fill, stroke: EDGE, lineWidth: 1 },
      };
    },
  };
}
function colorbarSeries(range: number[], xi: number, yi: number, low: string, high: string) {
  return {
    type: 'custom', xAxisIndex: xi, yAxisIndex: yi, silent: true,
    data: [[0, 1, range[0], range[1]]],
    encode: { x: [0, 1], y: [2, 3] },
    renderItem: (_p: any, api: any) => {
      const p0 = api.coord([api.value(0), api.value(3)]);
      const p1 = api.coord([api.value(1), api.value(2)]);
      return {
        type: 'rect',
        shape: { x: p0[0], y: p0[1], width: p1[0] - p0[0], height: p1[1] - p0[1] },
        style: { fill: new echarts.graphic.LinearGradient(0, 0, 0, 1, [{ offset: 0, color: high }, { offset: 1, color: low }]) },
      };
    },
  };
}
function scatterSeries(data: number[][], xi: number, yi: number, size: number, opacity: number) {
  return {
    type: 'scatter', xAxisIndex: xi, yAxisIndex: yi, silent: true, symbolSize: size,
    data, itemStyle: { opacity },
  };
}
const withLow = (pts: number[][]) => pts.map((p) => [p[0], p[1], 0.15]);

const tick = (vals: number[]) => ({ show: true, length: 3.5, customValues: vals, lineStyle: { color: AX, width: 0.8 } });
const lab = (vals: number[], fmt: (v: number) => string, margin = 5) => ({
  customValues: vals, formatter: fmt, color: TXT, fontFamily: FONT, fontSize: 10, margin,
});
const near = (arr: number[], v: number) => arr.findIndex((a) => Math.abs(a - v) < 1e-6);
const noLine = { show: false, onZero: false };
const gridBox = (left: number, top: number, width: number, height: number) => ({
  left, top, width, height, show: true, borderColor: AX, borderWidth: 0.8,
  backgroundColor: 'transparent', containLabel: false, outerBoundsMode: 'none',
});
const legendBox = (left: number, top: number) => ({
  left, top, orient: 'vertical', selectedMode: false,
  itemWidth: 24, itemHeight: 9, itemGap: 5, padding: [4, 6, 4, 5],
  borderColor: '#cccccc', borderWidth: 1, borderRadius: 3, backgroundColor: 'rgba(255,255,255,0.8)',
  textStyle: { fontFamily: FONT, fontSize: 12, color: TXT, padding: [0, 0, 0, 5] },
  data: [
    { name: NAME_CO2, icon: 'rect', itemStyle: { color: CO2_FILL, borderColor: EDGE, borderWidth: 1 } },
    { name: NAME_H2O, icon: 'rect', itemStyle: { color: H2O_FILL, borderColor: EDGE, borderWidth: 1 } },
  ],
});

function buildOption() {
  const hidden = { show: false };
  return {
    animation: false,
    textStyle: { fontFamily: FONT },
    grid: [
      gridBox(58, 9, 324, 257),
      gridBox(58, 314, 324, 256),
      gridBox(478, 9, 265, 257),
      gridBox(478, 314, 265, 256),
      gridBox(761, 9, 16, 257),
      gridBox(761, 314, 16, 256),
    ],
    xAxis: [
      { gridIndex: 0, type: 'value', min: -1.21, max: 1.21, axisLine: noLine, splitLine: hidden, axisTick: tick(aTicks), axisLabel: lab(aTicks, (v) => aTickLabels[near(aTicks, v)] ?? '', 4) },
      { gridIndex: 1, type: 'value', min: -2.2, max: 2.2, axisLine: noLine, splitLine: hidden, axisTick: tick(bXTicks), axisLabel: lab(bXTicks, (v) => (v < 0 ? '\u2212' : '') + Math.abs(v).toFixed(1), 4) },
      { gridIndex: 2, type: 'value', min: -2.2, max: 2.2, axisLine: noLine, splitLine: hidden, axisTick: tick(cXTicks), axisLabel: lab(cXTicks, (v) => String(Math.round(v)), 4) },
      { gridIndex: 3, type: 'value', min: -2.2, max: 2.0, axisLine: noLine, splitLine: hidden, axisTick: tick(dXTicks), axisLabel: lab(dXTicks, (v) => String(Math.round(v)), 4) },
      { gridIndex: 4, type: 'value', min: 0, max: 1, show: false },
      { gridIndex: 5, type: 'value', min: 0, max: 1, show: false },
    ],
    yAxis: [
      { gridIndex: 0, type: 'value', min: 0, max: 16500, axisLine: noLine, splitLine: hidden, axisTick: tick(aYTicks), axisLabel: lab(aYTicks, (v) => String(Math.round(v))) },
      { gridIndex: 1, type: 'value', min: 0, max: 2.24, axisLine: noLine, splitLine: hidden, axisTick: tick(bYTicks), axisLabel: lab(bYTicks, (v) => v.toFixed(2)) },
      { gridIndex: 1, type: 'value', position: 'right', min: -0.227, max: 4.767, axisLine: noLine, splitLine: hidden, axisTick: tick(bY2Ticks), axisLabel: lab(bY2Ticks, (v) => String(Math.round(v))) },
      { gridIndex: 2, type: 'value', min: 0, max: 4, axisLine: noLine, splitLine: hidden, axisTick: tick(cYTicks), axisLabel: lab(cYTicks, (v) => v.toFixed(1)) },
      { gridIndex: 3, type: 'value', min: 0, max: 4, axisLine: noLine, splitLine: hidden, axisTick: tick(cYTicks), axisLabel: lab(cYTicks, (v) => v.toFixed(1)) },
      { gridIndex: 4, type: 'value', position: 'right', min: cBarRange[0], max: cBarRange[1], axisLine: noLine, splitLine: hidden, axisTick: tick(cBarTicks), axisLabel: lab(cBarTicks, (v) => String(Math.round(v))) },
      { gridIndex: 5, type: 'value', position: 'right', min: dBarRange[0], max: dBarRange[1], axisLine: noLine, splitLine: hidden, axisTick: tick(dBarTicks), axisLabel: lab(dBarTicks, (v) => String(Math.round(v))) },
    ],
    legend: [legendBox(307, 13), legendBox(63, 319)],
    visualMap: [
      { type: 'continuous', show: false, seriesIndex: [6, 7, 8], dimension: 2, min: 0, max: cBarRange[1], inRange: { color: [C_LOW, C_HIGH] } },
      { type: 'continuous', show: false, seriesIndex: [9, 10, 11], dimension: 2, min: 0, max: dBarRange[1], inRange: { color: [D_LOW, D_HIGH] } },
    ],
    series: [
      histSeries(NAME_CO2, aBinEdges, aCO2, 0, 0, CO2_FILL),
      histSeries(NAME_H2O, aBinEdges, aH2O, 0, 0, H2O_FILL),
      histSeries(NAME_CO2, bBinEdges, bCO2, 1, 1, CO2_FILL),
      histSeries(NAME_H2O, bBinEdges, bH2O, 1, 1, H2O_FILL),
      { type: 'line', name: 'CO₂ density', xAxisIndex: 1, yAxisIndex: 2, data: bKdeCO2, showSymbol: false, symbol: 'none', smooth: 0.3, smoothMonotone: 'x', silent: true, z: 3, lineStyle: { color: CO2_LINE, width: 1.2 }, itemStyle: { color: CO2_LINE } },
      { type: 'line', name: 'H₂O density', xAxisIndex: 1, yAxisIndex: 2, data: bKdeH2O, showSymbol: false, symbol: 'none', smooth: 0.3, smoothMonotone: 'x', silent: true, z: 3, lineStyle: { color: H2O_LINE, width: 1.2 }, itemStyle: { color: H2O_LINE } },
      scatterSeries(withLow(cSparse), 2, 3, 5.5, 0.75),
      scatterSeries(cDense, 2, 3, 8, 1),
      scatterSeries(cCore, 2, 3, 8, 0.85),
      scatterSeries(withLow(dSparse), 3, 4, 5.5, 0.75),
      scatterSeries(dDense, 3, 4, 8, 1),
      scatterSeries(dCore, 3, 4, 8, 0.85),
      colorbarSeries(cBarRange, 4, 5, C_LOW, C_HIGH),
      colorbarSeries(dBarRange, 5, 6, D_LOW, D_HIGH),
    ],
    graphic: {
      elements: [
        textEl('(a)', 0, 6, 11, { bold: true, align: 'left' }),
        textEl('(b)', 0, 310.5, 11, { bold: true, align: 'left' }),
        textEl('(c)', 431.5, 6.5, 11, { bold: true, align: 'left' }),
        textEl('(d)', 431.5, 311.5, 11, { bold: true, align: 'left' }),
        textEl('Number of configurations', 10, 137.5, 12, { rotation: Math.PI / 2 }),
        textEl('Average error within bin [eV]', 21.5, 443, 12, { rotation: Math.PI / 2 }),
        textEl('DFT interaction energy [eV]', 220, 591, 12),
        textEl('Density of points', 402.5, 442, 12, { rotation: -Math.PI / 2 }),
        textEl('Point density', 794.5, 140, 12, { rotation: -Math.PI / 2 }),
        textEl('Point density', 794.5, 445, 12, { rotation: -Math.PI / 2 }),
        mathText(diffLabel, 220, 290, 12),
        mathText(absLabel, 449, 145, 12, Math.PI / 2),
        mathText(dftLabel, 611, 291, 12),
        mathText(absLabel, 449, 450, 12, Math.PI / 2),
        mathText(dftLabel, 611, 594, 12),
      ],
    },
  };
}

export default function App() {
  const ref = useRef<HTMLDivElement>(null);
  useEffect(() => {
    document.body.style.margin = '0';
    if (!ref.current) return;
    const chart = echarts.init(ref.current, null, { renderer: 'svg', width: 800, height: 602 });
    chart.setOption(buildOption() as any);
    return () => chart.dispose();
  }, []);
  return <div ref={ref} style={{ position: 'absolute', left: 0, top: 0, width: 800, height: 602, background: '#ffffff' }} />;
}
